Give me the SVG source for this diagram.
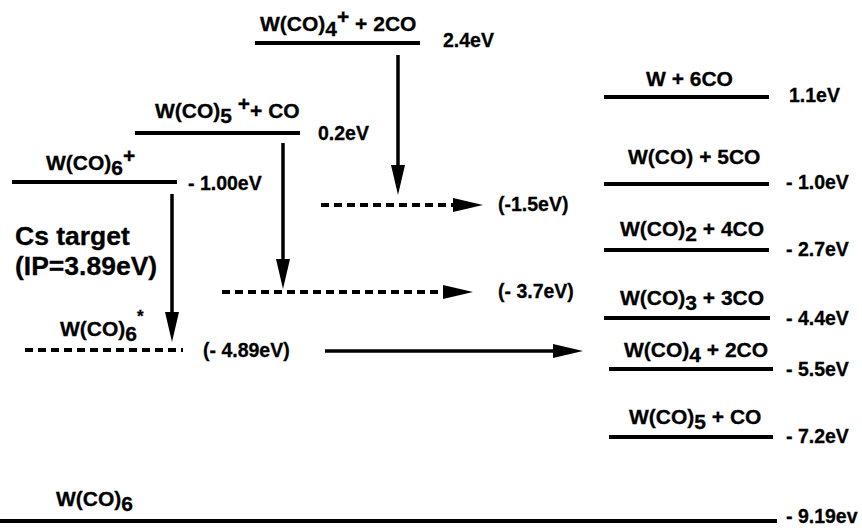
<svg xmlns="http://www.w3.org/2000/svg" width="862" height="528" viewBox="0 0 862 528">
<defs>
<style>
text{font-family:"Liberation Sans",Arial,sans-serif;font-weight:bold;fill:#000;stroke:#000;stroke-width:0.3;}
.sp{font-size:21px;}
.en{font-size:19.5px;}
.big{font-size:26.5px;}
.lvl{stroke:#000;stroke-width:4;fill:none;}
.arr{stroke:#000;stroke-width:3.5;fill:none;}
.dot{stroke:#000;stroke-width:4;fill:none;stroke-dasharray:8 5;}
</style>
<marker id="ah" markerUnits="userSpaceOnUse" markerWidth="30" markerHeight="14" refX="0" refY="7" orient="auto" overflow="visible">
<path d="M0,0 L30,7 L0,14 Z" fill="#000"/>
</marker>
</defs>
<rect width="862" height="528" fill="#fff"/>

<g id="lvl-wco4p">
<line class="lvl" x1="255" y1="43" x2="420" y2="43"/>
<text class="sp" x="260" y="31">W(CO)<tspan dy="5">4</tspan><tspan dy="-12">+</tspan><tspan dy="7"> + 2CO</tspan></text>
<text class="en" x="443" y="47">2.4eV</text>
</g>
<g id="lvl-wco5p">
<line class="lvl" x1="135" y1="133" x2="300" y2="133"/>
<text class="sp" x="155" y="118">W(CO)<tspan dy="5">5</tspan><tspan dy="-12"> +</tspan><tspan dy="7">+ CO</tspan></text>
<text class="en" x="318" y="140">0.2eV</text>
</g>
<g id="lvl-wco6p">
<line class="lvl" x1="12" y1="182" x2="177" y2="182"/>
<text class="sp" x="46" y="170">W(CO)<tspan dy="5">6</tspan><tspan dy="-12">+</tspan></text>
<text class="en" x="188" y="190">- 1.00eV</text>
</g>
<g id="cs-target">
<text class="big" x="15" y="245">Cs target</text>
<text class="big" x="15" y="275">(IP=3.89eV)</text>
</g>
<g id="lvl-wco6star">
<text class="sp" x="60" y="336">W(CO)<tspan dy="5">6</tspan><tspan dy="-19" font-size="17">*</tspan></text>
<text class="en" x="203" y="357">(- 4.89eV)</text>
</g>
<g id="lbl-15">
<text class="en" x="498" y="211">(-1.5eV)</text>
</g>
<g id="lbl-37">
<text class="en" x="498" y="298">(- 3.7eV)</text>
</g>

<g id="lvl-w6co">
<line class="lvl" x1="604" y1="97" x2="769" y2="97"/>
<text class="sp" x="646" y="86">W + 6CO</text>
<text class="en" x="789" y="102">1.1eV</text>
</g>
<g id="lvl-wco1">
<line class="lvl" x1="604" y1="184" x2="769" y2="184"/>
<text class="sp" x="628" y="164">W(CO) + 5CO</text>
<text class="en" x="786" y="189">- 1.0eV</text>
</g>
<g id="lvl-wco2">
<line class="lvl" x1="604" y1="250" x2="769" y2="250"/>
<text class="sp" x="620" y="236">W(CO)<tspan dy="5">2</tspan><tspan dy="-5"> + 4CO</tspan></text>
<text class="en" x="786" y="256">- 2.7eV</text>
</g>
<g id="lvl-wco3">
<line class="lvl" x1="604" y1="318" x2="770" y2="318"/>
<text class="sp" x="620" y="305">W(CO)<tspan dy="5">3</tspan><tspan dy="-5"> + 3CO</tspan></text>
<text class="en" x="786" y="325">- 4.4eV</text>
</g>
<g id="lvl-wco4">
<line class="lvl" x1="609" y1="369" x2="773" y2="369"/>
<text class="sp" x="624" y="357">W(CO)<tspan dy="5">4</tspan><tspan dy="-5"> + 2CO</tspan></text>
<text class="en" x="786" y="376">- 5.5eV</text>
</g>
<g id="lvl-wco5">
<line class="lvl" x1="609" y1="437" x2="773" y2="437"/>
<text class="sp" x="629" y="424">W(CO)<tspan dy="5">5</tspan><tspan dy="-5"> + CO</tspan></text>
<text class="en" x="786" y="443">- 7.2eV</text>
</g>
<g id="lvl-wco6">
<line class="lvl" x1="0" y1="521" x2="777" y2="521"/>
<text class="sp" x="56" y="506">W(CO)<tspan dy="5">6</tspan></text>
<text class="en" x="786" y="523">- 9.19ev</text>
</g>

<g id="connectors">
<line class="arr" x1="398" y1="55" x2="398" y2="165" marker-end="url(#ah)"/>
<line class="arr" x1="283" y1="143" x2="283" y2="259" marker-end="url(#ah)"/>
<line class="arr" x1="172" y1="194" x2="172" y2="312" marker-end="url(#ah)"/>
<line class="dot" x1="321" y1="205" x2="453" y2="205" marker-end="url(#ah)"/>
<line class="dot" x1="222" y1="292" x2="443" y2="292" marker-end="url(#ah)"/>
<line class="dot" x1="25" y1="350" x2="183" y2="350"/>
<line class="arr" x1="325" y1="351" x2="553" y2="351" stroke-width="4" marker-end="url(#ah)"/>
</g>
</svg>
